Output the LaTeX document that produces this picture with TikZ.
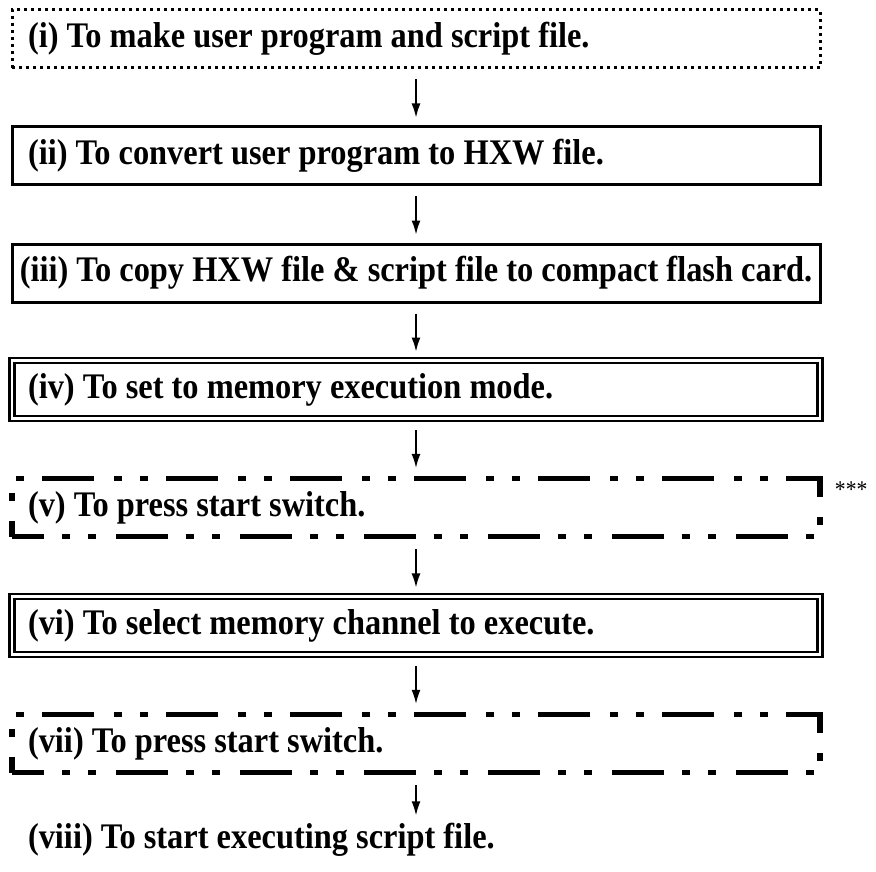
\documentclass[tikz,border=0pt]{standalone}
\usepackage{fontspec}
\setmainfont{Liberation Serif}[FakeStretch=0.9]
\usepackage{tikz}
\usetikzlibrary{positioning,arrows.meta}
\newcommand{\stepfont}{\fontsize{36}{38}\selectfont\bfseries}
\tikzset{
  stepbase/.style  = {minimum width=808pt, minimum height=58pt, inner xsep=16pt,
                      text width=776pt, align=flush left, font=\stepfont},
  dotbox/.style    = {stepbase, draw, line width=3pt, dash pattern=on 3pt off 4pt},
  solidbox/.style  = {stepbase, draw, line width=3pt},
  dblbox/.style    = {stepbase, draw, double, double distance=2.5pt, line width=2.4pt},
  dashbox/.style   = {stepbase, draw, line width=5.5pt,
                      dash pattern=on 52pt off 18pt on 8pt off 18pt on 8pt off 20pt,
                      dash phase=20pt},
  endtext/.style   = {stepbase, minimum height=0pt, inner ysep=0pt},
  arrow/.style     = {-{Latex[length=14pt,width=9pt]}, line width=1.5pt,
                      shorten <=10pt, shorten >=8pt},
}

\begin{document}
\begin{tikzpicture}[node distance=56pt]
  \useasboundingbox (0,0) rectangle (876pt,-872pt);
  \node[dotbox] (make) at (416pt,-39pt) {(i) To make user program and script file.};
  \node[solidbox, below=of make] (conv) {(ii) To convert user program to HXW file.};
  \node[solidbox, below=of conv, text width=, align=center, inner xsep=4pt] (copy) {(iii) To copy HXW file \& script file to compact flash card.};
  \node[dblbox, below=of copy] (mode) {(iv) To set to memory execution mode.};
  \node[dashbox, below=of mode] (press) {(v) To press start switch.};
  \node[dblbox, below=of press] (chan) {(vi) To select memory channel to execute.};
  \node[dashbox, below=of chan] (pressb) {(vii) To press start switch.};
  \node[endtext, below=48pt of pressb] (run) {(viii) To start executing script file.};
  \node[anchor=north west, font=\fontsize{24}{26}\selectfont, inner sep=0pt] (star) at ([xshift=12pt,yshift=-6pt]press.north east) {***};
  \draw[arrow] (make) -- (conv); \draw[arrow] (conv) -- (copy); \draw[arrow] (copy) -- (mode);
  \draw[arrow] (mode) -- (press); \draw[arrow] (press) -- (chan); \draw[arrow] (chan) -- (pressb);
  \draw[arrow] (pressb) -- (run);
\end{tikzpicture}
\end{document}
